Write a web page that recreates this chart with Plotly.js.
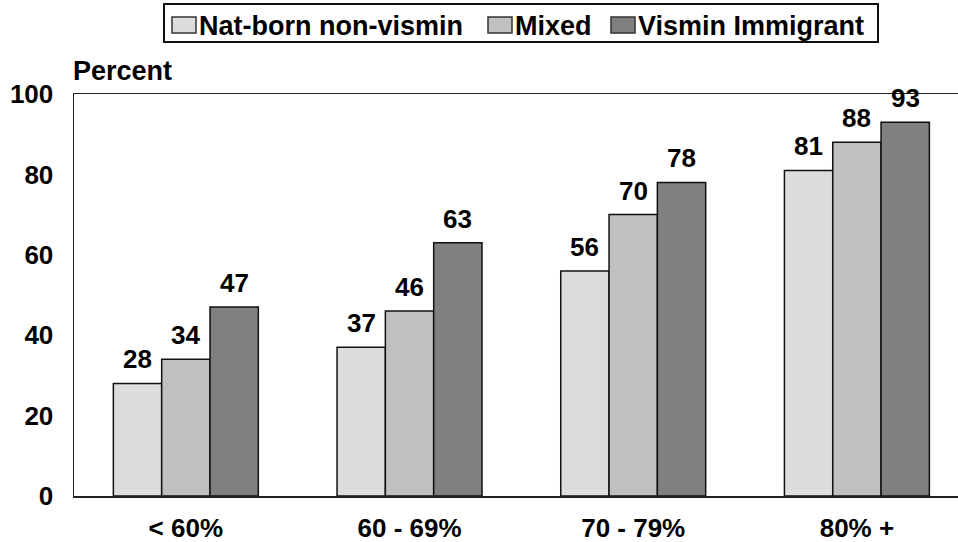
<!DOCTYPE html>
<html>
<head>
<meta charset="utf-8">
<script src="https://cdn.plot.ly/plotly-3.0.1.min.js"></script>
<style>html,body{margin:0;padding:0;background:#fff;}#chart{width:958px;height:542px;}</style>
</head>
<body>
<div id="chart"></div>
<script>
const categories = ["< 60%", "60 - 69%", "70 - 79%", "80% +"];
const seriesNames = ["Nat-born non-vismin", "Mixed", "Vismin Immigrant"];
const natBorn = [28, 37, 56, 81];
const mixed = [34, 46, 70, 88];
const visminImmigrant = [47, 63, 78, 93];
const yTicks = [0, 20, 40, 60, 80, 100];

const colors = ["#dddddd", "#c0c0c0", "#808080"];
const FONT = "Arial, 'Liberation Sans', sans-serif";
const seriesValues = [natBorn, mixed, visminImmigrant];

// layout geometry (pixels)
const M = {l: 74, r: 0, t: 94, b: 46};
const W = 958, H = 542;
const PW = W - M.l - M.r, PH = H - M.t - M.b;
const px2x = p => (p - M.l) / PW;
const py2y = p => (H - M.b - p) / PH;

const traces = seriesValues.map((vals, i) => ({
  type: "bar",
  name: seriesNames[i],
  x: categories,
  y: vals,
  marker: {color: colors[i], line: {color: "#111", width: 1.5}},
  hoverinfo: "none",
  showlegend: false
}));

const barPx = 48.3;
const annotations = [{
  text: "Percent", xref: "paper", yref: "paper", x: 0, y: 1, xanchor: "left", yanchor: "bottom",
  xshift: -3, yshift: 6, showarrow: false, font: {family: FONT, size: 27, color: "#000", weight: "bold"}
}];
seriesValues.forEach((vals, i) => {
  vals.forEach((v, j) => {
    annotations.push({
      text: String(v), x: categories[j], y: v, xref: "x", yref: "y",
      xanchor: "center", yanchor: "bottom", xshift: (i - 1) * barPx, yshift: 7,
      showarrow: false, font: {family: FONT, size: 26, color: "#000", weight: "bold"}
    });
  });
});

// custom legend (box, swatches, labels)
const legBox = {x0: 164, x1: 878, y0: 4, y1: 42};
const swatchX = [172, 488, 611];
const swatchW = 24, swatchY0 = 17, swatchY1 = 33;
const shapes = [{
  type: "rect", xref: "paper", yref: "paper",
  x0: px2x(legBox.x0), x1: px2x(legBox.x1), y0: py2y(legBox.y1), y1: py2y(legBox.y0),
  line: {color: "#111", width: 2}, fillcolor: "#fff"
}];
seriesNames.forEach((name, i) => {
  shapes.push({
    type: "rect", xref: "paper", yref: "paper",
    x0: px2x(swatchX[i]), x1: px2x(swatchX[i] + swatchW), y0: py2y(swatchY1), y1: py2y(swatchY0),
    line: {color: "#333", width: 1.5}, fillcolor: colors[i]
  });
  annotations.push({
    text: name, xref: "paper", yref: "paper", x: px2x(swatchX[i] + swatchW + 1), y: py2y(26),
    xanchor: "left", yanchor: "middle", showarrow: false,
    font: {family: FONT, size: 27, color: "#000", weight: "bold"}
  });
});

const layout = {
  width: W, height: H,
  margin: M,
  paper_bgcolor: "#fff", plot_bgcolor: "#fff",
  barmode: "group", bargap: 0.352, bargroupgap: 0,
  font: {family: FONT, color: "#000", size: 26, weight: "bold"},
  showlegend: false,
  xaxis: {
    type: "category", range: [-0.5, 3.452],
    showline: true, linecolor: "#222", linewidth: 1.5, mirror: true,
    showgrid: false, ticks: "", ticklabelstandoff: 8,
    tickfont: {family: FONT, size: 26, color: "#000", weight: "bold"}
  },
  yaxis: {
    range: [0, 100], tickvals: yTicks, ticktext: yTicks.map(String),
    showline: true, linecolor: "#222", linewidth: 1.5, mirror: false,
    showgrid: false, zeroline: false, ticks: "", ticklabelstandoff: 14,
    tickfont: {family: FONT, size: 26, color: "#000", weight: "bold"}
  },
  shapes: shapes,
  annotations: annotations
};

Plotly.newPlot("chart", traces, layout, {staticPlot: true});
</script>
</body>
</html>
